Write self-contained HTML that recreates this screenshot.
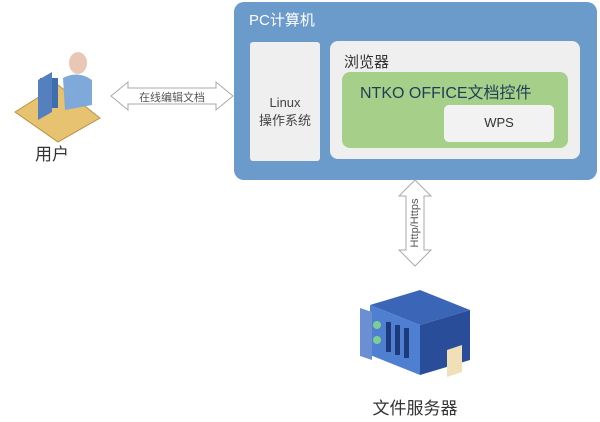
<!DOCTYPE html>
<html><head><meta charset="utf-8"><style>
body{margin:0;width:600px;height:422px;background:#fff;position:relative;overflow:hidden;font-family:"Liberation Sans","Noto Sans CJK SC",sans-serif}
.a{position:absolute}
</style></head><body>
<div class="a" style="left:234px;top:2px;width:363px;height:178px;background:#6b9bcb;border-radius:10px"></div>
<div class="a" style="left:249px;top:9px;color:#fff;font-size:15px">PC计算机</div>
<div class="a" style="left:250px;top:42px;width:70px;height:119px;background:#efefef;border-radius:3px"></div>
<div class="a" style="left:250px;top:94px;width:70px;text-align:center;color:#444;font-size:13px;line-height:18px">Linux<br>操作系统</div>
<div class="a" style="left:330px;top:41px;width:250px;height:118px;background:#efefef;border-radius:8px"></div>
<div class="a" style="left:344px;top:51px;color:#333;font-size:15px">浏览器</div>
<div class="a" style="left:342px;top:72px;width:226px;height:76px;background:#a6d08a;border-radius:8px"></div>
<div class="a" style="left:360px;top:79px;color:#1f3d57;font-size:16px">NTKO OFFICE文档控件</div>
<div class="a" style="left:444px;top:105px;width:110px;height:37px;background:#f2f2f2;border-radius:5px"></div>
<div class="a" style="left:444px;top:115px;width:110px;text-align:center;color:#333;font-size:13px">WPS</div>
<svg class="a" style="left:0;top:0" width="600" height="422">
<polygon points="111,96 128,82 128,88 216,88 216,82 233,96 216,110 216,104 128,104 128,110" fill="#fff" stroke="#aaa"/>
<polygon points="415,180 431,196 424,196 424,250 431,250 415,266 399,250 406,250 406,196 399,196" fill="#fff" stroke="#aaa"/>
<!-- user -->
<polygon points="15,112 58,85 100,118 58,142" fill="#e6c271" stroke="#b8923f"/>
<rect x="40" y="78" width="18" height="30" fill="#3d6fae"/>
<polygon points="38,80 52,72 52,112 38,120" fill="#5580c0"/>
<ellipse cx="78" cy="63" rx="9" ry="11" fill="#e8c8b5"/>
<path d="M63,78 Q78,70 92,80 L92,105 L65,110 Z" fill="#7fa9d8"/>
<!-- server -->
<polygon points="370,305 420,290 470,310 420,325" fill="#3b66b7"/>
<polygon points="370,305 420,325 420,375 370,355" fill="#4f7fd0"/>
<polygon points="420,325 470,310 470,360 420,375" fill="#2a4d99"/>
<polygon points="360,308 372,312 372,360 360,356" fill="#6b8fd2"/>
<circle cx="377" cy="325" r="4" fill="#7bd090"/><circle cx="377" cy="340" r="4" fill="#7bd090"/>
<rect x="386" y="322" width="5" height="30" fill="#1d3a7a"/><rect x="395" y="325" width="5" height="30" fill="#1d3a7a"/><rect x="404" y="328" width="5" height="30" fill="#1d3a7a"/>
<polygon points="447,350 462,345 462,372 447,377" fill="#efe0b8"/>
<text x="415" y="223" text-anchor="middle" dominant-baseline="central" transform="rotate(-90 415 223)" font-size="11" fill="#555" font-family="Liberation Sans">Http/Https</text>
</svg>
<div class="a" style="left:122px;top:89px;width:100px;text-align:center;font-size:11px;color:#555">在线编辑文档</div>
<div class="a" style="left:35px;top:140px;font-size:17px;color:#333">用户</div>
<div class="a" style="left:360px;top:394px;width:110px;text-align:center;font-size:17px;color:#333">文件服务器</div>
</body></html>
